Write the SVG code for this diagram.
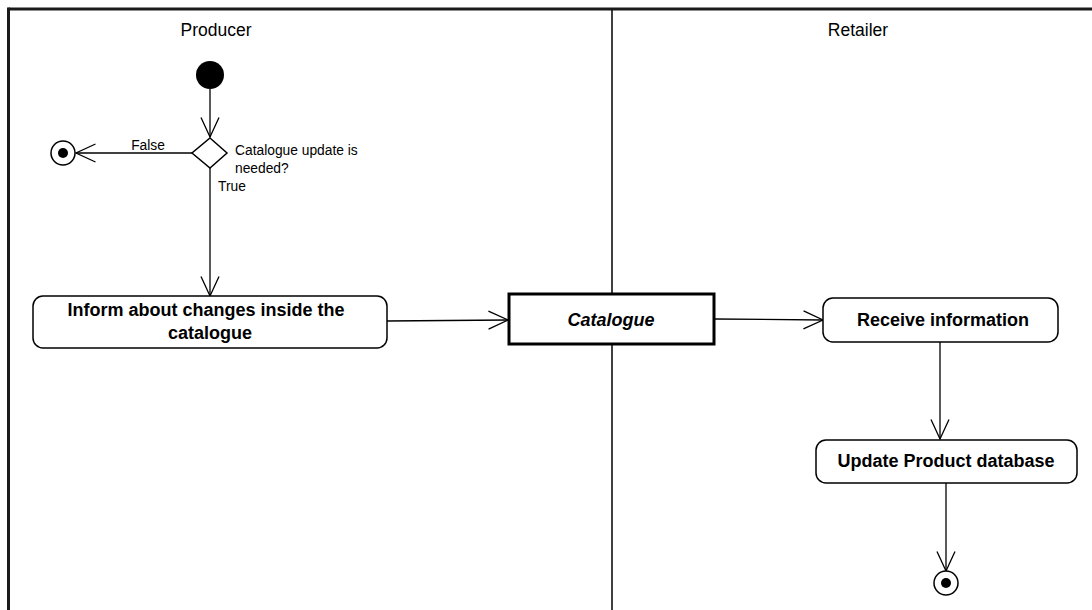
<svg xmlns="http://www.w3.org/2000/svg" width="1092" height="610" viewBox="0 0 1092 610">
<style>
.lane{font-family:"Liberation Sans",Arial,sans-serif;font-size:17.5px;fill:#000}
.lbl{font-family:"Liberation Sans",Arial,sans-serif;font-size:13.8px;fill:#000}
.act{fill:#fff;stroke:#000;stroke-width:1.5}
.at{font-family:"Liberation Sans",Arial,sans-serif;font-size:18px;font-weight:bold;fill:#000;text-anchor:middle}
.edge{fill:none;stroke:#000;stroke-width:1.3}
</style>
<defs>
<marker id="open" viewBox="0 0 22 22" refX="20.5" refY="11" markerWidth="22" markerHeight="22" markerUnits="userSpaceOnUse" orient="auto">
<path d="M1,2 L20.5,11 L1,20" fill="none" stroke="#000" stroke-width="1.3"/>
</marker>
</defs>
<rect width="1092" height="610" fill="#fff"/>
<g id="swimlanes">
<line x1="8.5" y1="9" x2="1092" y2="9" stroke="#1a1a1a" stroke-width="3"/>
<line x1="8.5" y1="7.5" x2="8.5" y2="610" stroke="#1a1a1a" stroke-width="3"/>
<line x1="612" y1="10" x2="612" y2="610" stroke="#000" stroke-width="1.5"/>
<text class="lane" x="216" y="36" text-anchor="middle">Producer</text>
<text class="lane" x="858" y="36" text-anchor="middle">Retailer</text>
</g>
<g id="connectors">
<line class="edge" x1="210" y1="89" x2="210" y2="137" marker-end="url(#open)"/>
<line class="edge" x1="192" y1="153" x2="76" y2="153" marker-end="url(#open)"/>
<line class="edge" x1="210" y1="168" x2="210" y2="296" marker-end="url(#open)"/>
<line class="edge" x1="387" y1="321" x2="508" y2="320" marker-end="url(#open)"/>
<line class="edge" x1="715" y1="319" x2="823" y2="320" marker-end="url(#open)"/>
<line class="edge" x1="940" y1="342" x2="940" y2="439" marker-end="url(#open)"/>
<line class="edge" x1="946" y1="483" x2="946" y2="571" marker-end="url(#open)"/>
<text class="lbl" x="148" y="150" text-anchor="middle">False</text>
<text class="lbl" x="218" y="191">True</text>
</g>
<g id="start">
<circle cx="210" cy="75" r="14" fill="#000"/>
</g>
<g id="decision">
<polygon points="210,138 227,153 210,168 192,153" fill="#fff" stroke="#000" stroke-width="1.5"/>
<text class="lbl" x="235" y="155">Catalogue update is</text>
<text class="lbl" x="235" y="173">needed?</text>
</g>
<g id="final1">
<circle cx="63" cy="153" r="12" fill="#fff" stroke="#000" stroke-width="1.5"/>
<circle cx="63" cy="153" r="5" fill="#000"/>
</g>
<g id="inform">
<rect class="act" x="33" y="296" width="354" height="52" rx="10"/>
<text class="at" x="206" y="316">Inform about changes inside the</text>
<text class="at" x="210" y="339">catalogue</text>
</g>
<g id="catalogue">
<rect x="509" y="294" width="205" height="50" fill="#fff" stroke="#000" stroke-width="3"/>
<text class="at" x="611" y="326" font-style="italic">Catalogue</text>
</g>
<g id="receive">
<rect class="act" x="823" y="298" width="235" height="44" rx="10"/>
<text class="at" x="943" y="326">Receive information</text>
</g>
<g id="update">
<rect class="act" x="816" y="440" width="261" height="43" rx="10"/>
<text class="at" x="946" y="467">Update Product database</text>
</g>
<g id="final2">
<circle cx="946" cy="583" r="12" fill="#fff" stroke="#000" stroke-width="1.5"/>
<circle cx="946" cy="583" r="5" fill="#000"/>
</g>
</svg>
